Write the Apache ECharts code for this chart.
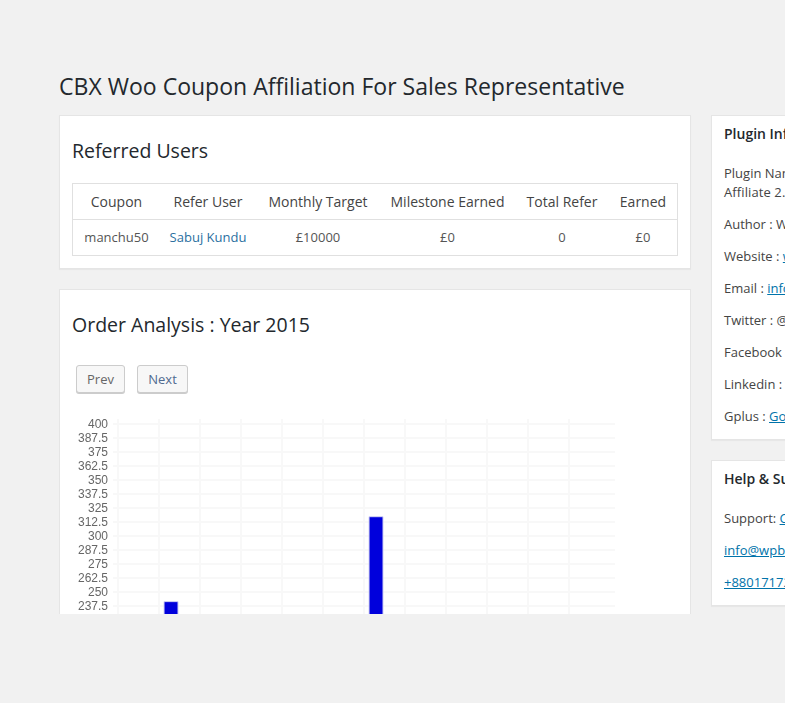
<!DOCTYPE html>
<html>
<head>
<meta charset="utf-8" />
<title>Order Analysis</title>
<script src="https://cdn.jsdelivr.net/npm/echarts@6/dist/echarts.min.js"></script>
<style>
html, body { margin: 0; height: 100%; overflow: hidden; background: #f1f1f1; }
body { font-family: "Open Sans", sans-serif; font-size: 13px; color: #444; position: relative; }
a { color: #0073aa; }
h1 { position: absolute; left: 59px; top: 71px; margin: 0; font-size: 23.04px; line-height: 31px; font-weight: 400; color: #23282d; white-space: nowrap; }
h2 { position: absolute; left: 12px; margin: 0; font-size: 19.5px; line-height: 28px; font-weight: 400; color: #23282d; white-space: nowrap; }
h3 { position: absolute; left: 12px; top: 9px; margin: 0; font-size: 14px; line-height: 18px; font-weight: 600; color: #23282d; white-space: nowrap; }
.panel { position: absolute; background: #fff; border: 1px solid #e5e5e5; box-shadow: 0 1px 1px rgba(0,0,0,.04); box-sizing: border-box; overflow: hidden; }
table { position: absolute; left: 12px; top: 67px; width: 606px; border-collapse: collapse; font-size: 14px; text-align: center; }
th { font-weight: 400; height: 35px; padding: 0; border: 1px solid #e0e0e0; border-width: 1px 0; color: #444; }
td { height: 33px; padding: 0 0 2px; border-top: 1px solid #e0e0e0; border-bottom: 1px solid #e0e0e0; font-size: 13px; color: #555; }
th:first-child, td:first-child { border-left: 1px solid #e0e0e0; }
th:last-child, td:last-child { border-right: 1px solid #e0e0e0; }
td a { text-decoration: none; color: #2a6f9f; }
.btn { position: absolute; top: 75px; height: 28px; box-sizing: border-box; border: 1px solid #ccc; border-radius: 3px; background: #f7f7f7; box-shadow: 0 1px 0 #ccc; font-size: 13px; line-height: 26px; text-align: center; }
.side p { position: absolute; left: 12px; margin: 0; line-height: 19px; white-space: nowrap; color: #444; }
#main { position: absolute; left: 0; top: 110px; width: 630px; height: 500px; }
</style>
</head>
<body>
<h1>CBX Woo Coupon Affiliation For Sales Representative</h1>

<div class="panel" style="left:59px;top:115px;width:632px;height:154px;">
	<h2 style="top:21px;">Referred Users</h2>
	<table>
		<tr><th style="width:87px">Coupon</th><th style="width:96px">Refer User</th><th style="width:124px">Monthly Target</th><th style="width:135px">Milestone Earned</th><th style="width:94px">Total Refer</th><th>Earned</th></tr>
		<tr><td>manchu50</td><td><a href="#">Sabuj Kundu</a></td><td>£10000</td><td>£0</td><td>0</td><td>£0</td></tr>
	</table>
</div>

<div class="panel" style="left:59px;top:289px;width:632px;height:325px;border-bottom:0;box-shadow:none;">
	<h2 style="top:21px;">Order Analysis : Year 2015</h2>
	<div class="btn" style="left:16px;width:49px;color:#666;">Prev</div>
	<div class="btn" style="left:77px;width:51px;color:#4f6a8f;">Next</div>
	<div id="main"></div>
</div>

<div class="panel side" style="left:711px;top:115px;width:120px;height:325px;">
	<h3>Plugin Information</h3>
	<p style="top:48px;">Plugin Name : CBX Woo Coupon<br><span style="letter-spacing:.1px">Affiliate 2.0</span></p>
	<p style="top:99px;">Author : WPBoxr</p>
	<p style="top:131px;">Website : <a href="#">wpboxr.com</a></p>
	<p style="top:163px;">Email : <a href="#">info@wpboxr.com</a></p>
	<p style="top:195px;">Twitter : @wpboxr</p>
	<p style="top:227px;">Facebook : wpboxr</p>
	<p style="top:259px;">Linkedin : wpboxr</p>
	<p style="top:291px;">Gplus : <a href="#">Google</a></p>
</div>

<div class="panel side" style="left:711px;top:460px;width:120px;height:146px;">
	<h3>Help &amp; Support</h3>
	<p style="top:48px;">Support: <a href="#">Contact</a></p>
	<p style="top:80px;"><a href="#">info@wpboxr.com</a></p>
	<p style="top:112px;"><a href="#">+880171720000</a></p>
</div>

<script type="text/javascript">
var months = ['Jan', 'Feb', 'Mar', 'Apr', 'May', 'Jun', 'Jul', 'Aug', 'Sep', 'Oct', 'Nov', 'Dec'];
var orderValues = [0, 241.5, 0, 0, 0, 0, 317.5, 0, 0, 0, 0, 0];
// second series lies below the cropped part of the page
var referValues = [0, 0, 0, 0, 0, 0, 0, 0, 0, 0, 0, 0];
var yMax = 400;
var yStep = 12.5;

var gridColor = '#f8f8f8';
var plotTop = 24; // 424 on the page
var plotHeight = 447;
var chart = echarts.init(document.getElementById('main'));

chart.setOption({
	animation: false,
	grid: [
		// bars
		{ left: 58, top: plotTop, width: 492, height: plotHeight },
		// horizontal lines run a little past the plot on both sides
		{ left: 53, top: plotTop, width: 502, height: plotHeight },
		// vertical lines start a little above the plot
		{ left: 58, top: plotTop - 5, width: 492, height: plotHeight + 10 },
		// y labels sit one pixel under their lines
		{ left: 58, top: plotTop + 1, width: 492, height: plotHeight }
	],
	xAxis: [
		{ gridIndex: 0, type: 'category', data: months, axisLine: { show: false }, axisTick: { show: false },
			axisLabel: { color: '#666', fontSize: 12, fontFamily: 'Liberation Sans' } },
		{ gridIndex: 1, type: 'value', show: false, min: 0, max: 1 },
		{ gridIndex: 2, type: 'category', data: months, axisLine: { show: false }, axisTick: { show: false }, axisLabel: { show: false },
			splitLine: { show: true, showMaxLine: false, interval: 0, lineStyle: { color: gridColor, width: 2 } } },
		{ gridIndex: 3, type: 'value', show: false, min: 0, max: 1 }
	],
	yAxis: [
		{ gridIndex: 0, type: 'value', show: false, min: 0, max: yMax, interval: yStep },
		{ gridIndex: 1, type: 'value', min: 0, max: yMax, interval: yStep, axisLine: { show: false }, axisTick: { show: false }, axisLabel: { show: false },
			splitLine: { show: true, lineStyle: { color: gridColor, width: 2 } } },
		{ gridIndex: 2, type: 'value', show: false, min: 0, max: 1 },
		{ gridIndex: 3, type: 'value', min: 0, max: yMax, interval: yStep, splitLine: { show: false }, axisLine: { show: false }, axisTick: { show: false },
			axisLabel: { color: '#666', fontSize: 12, fontFamily: 'Liberation Sans', margin: 10, showMaxLabel: true } }
	],
	series: [
		{ name: 'Orders', type: 'bar', xAxisIndex: 0, yAxisIndex: 0, data: orderValues, barWidth: 15, barGap: '13%',
			itemStyle: { color: '#0000dc', borderColor: '#d4d4f4', borderWidth: 1 } },
		{ name: 'Refer', type: 'bar', xAxisIndex: 0, yAxisIndex: 0, data: referValues, barWidth: 15,
			itemStyle: { color: '#dcdcdc' } }
	]
});
</script>
</body>
</html>
